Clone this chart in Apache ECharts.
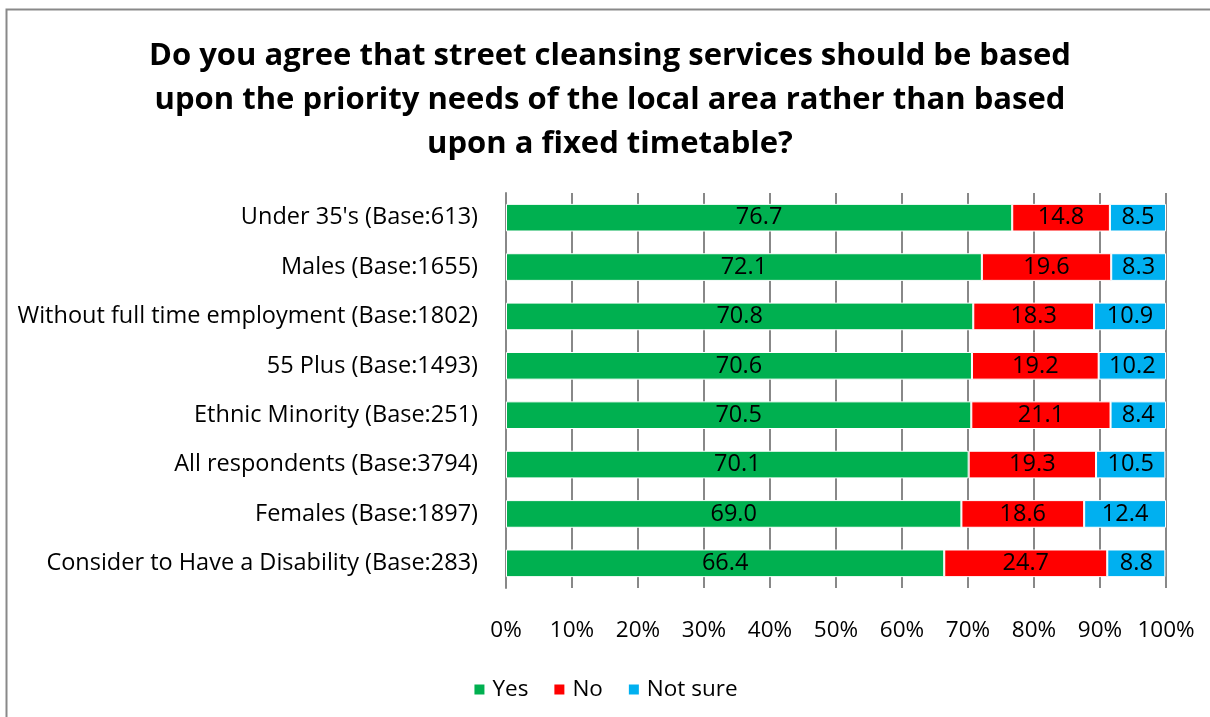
<!DOCTYPE html>
<html>
<head>
<meta charset="utf-8">
<script src="https://cdn.jsdelivr.net/npm/echarts@6/dist/echarts.min.js"></script>
<style>
html,body{margin:0;padding:0;background:#fff;}
#chart{width:1210px;height:717px;}
</style>
</head>
<body>
<div id="chart"></div>
<script>
var categories = [
  "Under 35's (Base:613)",
  "Males (Base:1655)",
  "Without full time employment (Base:1802)",
  "55 Plus (Base:1493)",
  "Ethnic Minority (Base:251)",
  "All respondents (Base:3794)",
  "Females (Base:1897)",
  "Consider to Have a Disability (Base:283)"
];
var yesValues = [76.7, 72.1, 70.8, 70.6, 70.5, 70.1, 69.0, 66.4];
var noValues = [14.8, 19.6, 18.3, 19.2, 21.1, 19.3, 18.6, 24.7];
var notSureValues = [8.5, 8.3, 10.9, 10.2, 8.4, 10.5, 12.4, 8.8];
var seriesNames = ["Yes", "No", "Not sure"];
var titleText = "Do you agree that street cleansing services should be based\nupon the priority needs of the local area rather than based\nupon a fixed timetable?";

var FONT = "'Open Sans', 'Noto Sans', sans-serif";
var chart = echarts.init(document.getElementById('chart'));

function mkSeries(name, data, color) {
  return {
    name: name,
    type: 'bar',
    stack: 'total',
    barWidth: '56%',
    data: data,
    itemStyle: { color: color, borderColor: '#ffffff', borderWidth: 1 },
    label: {
      show: true,
      position: 'inside',
      color: '#000',
      fontFamily: FONT,
      fontSize: 23.5,
      formatter: function (p) { return Number(p.value).toFixed(1); }
    }
  };
}

chart.setOption({
  backgroundColor: '#fff',
  animation: false,
  graphic: [{
    type: 'rect',
    shape: { x: 6.5, y: 9.5, width: 1400, height: 900 },
    style: { fill: 'none', stroke: '#898989', lineWidth: 2 },
    z: -1
  }],
  title: {
    text: titleText,
    left: 605,
    textAlign: 'center',
    top: 29,
    textStyle: {
      fontFamily: FONT,
      fontWeight: 'bold',
      fontSize: 31,
      lineHeight: 44,
      color: '#000'
    }
  },
  legend: {
    data: seriesNames,
    top: 673,
    left: 'center',
    itemWidth: 12,
    itemHeight: 12,
    itemGap: 24,
    icon: 'rect',
    textStyle: { fontFamily: FONT, fontSize: 22.5, color: '#000', padding: [0, 0, 0, 2] }
  },
  grid: { left: 506, right: 44, top: 193, bottom: 129, containLabel: false },
  xAxis: {
    type: 'value',
    min: 0,
    max: 100,
    interval: 10,
    axisLine: { show: false },
    axisTick: { show: false },
    splitLine: { show: true, lineStyle: { color: '#888888', width: 2 } },
    axisLabel: {
      formatter: '{value}%',
      fontFamily: FONT,
      fontSize: 22.5,
      color: '#000',
      margin: 31
    }
  },
  yAxis: {
    type: 'category',
    inverse: true,
    data: categories,
    axisLine: { show: true, lineStyle: { color: '#888888', width: 2 } },
    axisTick: { show: false },
    axisLabel: { fontFamily: FONT, fontSize: 23.5, color: '#000', margin: 28 }
  },
  series: [
    mkSeries(seriesNames[0], yesValues, '#00B050'),
    mkSeries(seriesNames[1], noValues, '#FF0000'),
    mkSeries(seriesNames[2], notSureValues, '#00B0F0')
  ]
});
</script>
</body>
</html>
